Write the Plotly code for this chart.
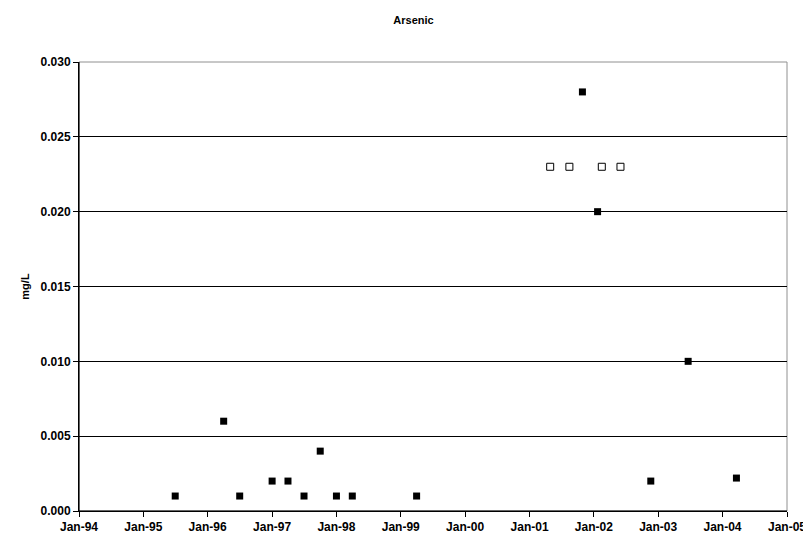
import plotly.graph_objects as go

# Detected values
det_dates = ['1995-07-01', '1996-04-01', '1996-07-01', '1997-01-01', '1997-04-01',
             '1997-07-01', '1997-10-01', '1998-01-01', '1998-04-01', '1999-04-01',
             '2001-10-28', '2002-01-22', '2002-11-20', '2003-06-20', '2004-03-20']
det_values = [0.001, 0.006, 0.001, 0.002, 0.002,
              0.001, 0.004, 0.001, 0.001, 0.001,
              0.028, 0.020, 0.002, 0.010, 0.0022]

# Non-detects (open markers)
nd_dates = ['2001-04-28', '2001-08-15', '2002-02-15', '2002-06-01']
nd_values = [0.023, 0.023, 0.023, 0.023]

tick_vals = ['%d-01-01' % y for y in range(1994, 2006)]
tick_text = ['Jan-%02d' % (y % 100) for y in range(1994, 2006)]
y_ticks = [0, 0.005, 0.010, 0.015, 0.020, 0.025, 0.030]

font = dict(family='Arial, Liberation Sans, sans-serif', color='black', size=12)

fig = go.Figure()
fig.add_trace(go.Scatter(
    x=det_dates, y=det_values, mode='markers',
    marker=dict(symbol='square', size=7, color='black'),
    showlegend=False,
))
fig.add_trace(go.Scatter(
    x=nd_dates, y=nd_values, mode='markers',
    marker=dict(symbol='square-open', size=7, color='black', line=dict(width=1)),
    showlegend=False,
))

fig.update_layout(
    width=811, height=546,
    margin=dict(l=71, r=32, t=54, b=43),
    paper_bgcolor='white',
    plot_bgcolor='white',
    font=font,
    title=dict(text='<b>Arsenic</b>', x=0.5, xanchor='center', y=0.978, yanchor='middle',
               font=dict(size=11)),
    xaxis=dict(
        type='date', range=['1994-01-01', '2005-01-01'],
        tickvals=tick_vals, ticktext=['<b>%s</b>' % t for t in tick_text],
        ticks='outside', ticklen=5, tickcolor='black',
        showgrid=False, showline=True, linecolor='black',
        zeroline=False,
    ),
    yaxis=dict(
        range=[0, 0.030], tickvals=y_ticks,
        ticktext=['<b>%.3f</b>' % v for v in y_ticks],
        ticks='outside', ticklen=5, tickcolor='black',
        showgrid=True, gridcolor='black', gridwidth=1,
        showline=True, linecolor='black', zeroline=False,
        title=dict(text='<b>mg/L</b>', standoff=8, font=dict(size=11)),
    ),
)
# gray frame on top and right
fig.add_shape(type='rect', xref='paper', yref='paper', x0=0, y0=0, x1=1, y1=1,
              line=dict(color='#909090', width=1), layer='below')
fig.add_shape(type='line', xref='paper', yref='paper', x0=0, y0=0, x1=0, y1=1,
              line=dict(color='black', width=1))
fig.add_shape(type='line', xref='paper', yref='paper', x0=0, y0=0, x1=1, y1=0,
              line=dict(color='black', width=1))

fig.write_html("out.html")
